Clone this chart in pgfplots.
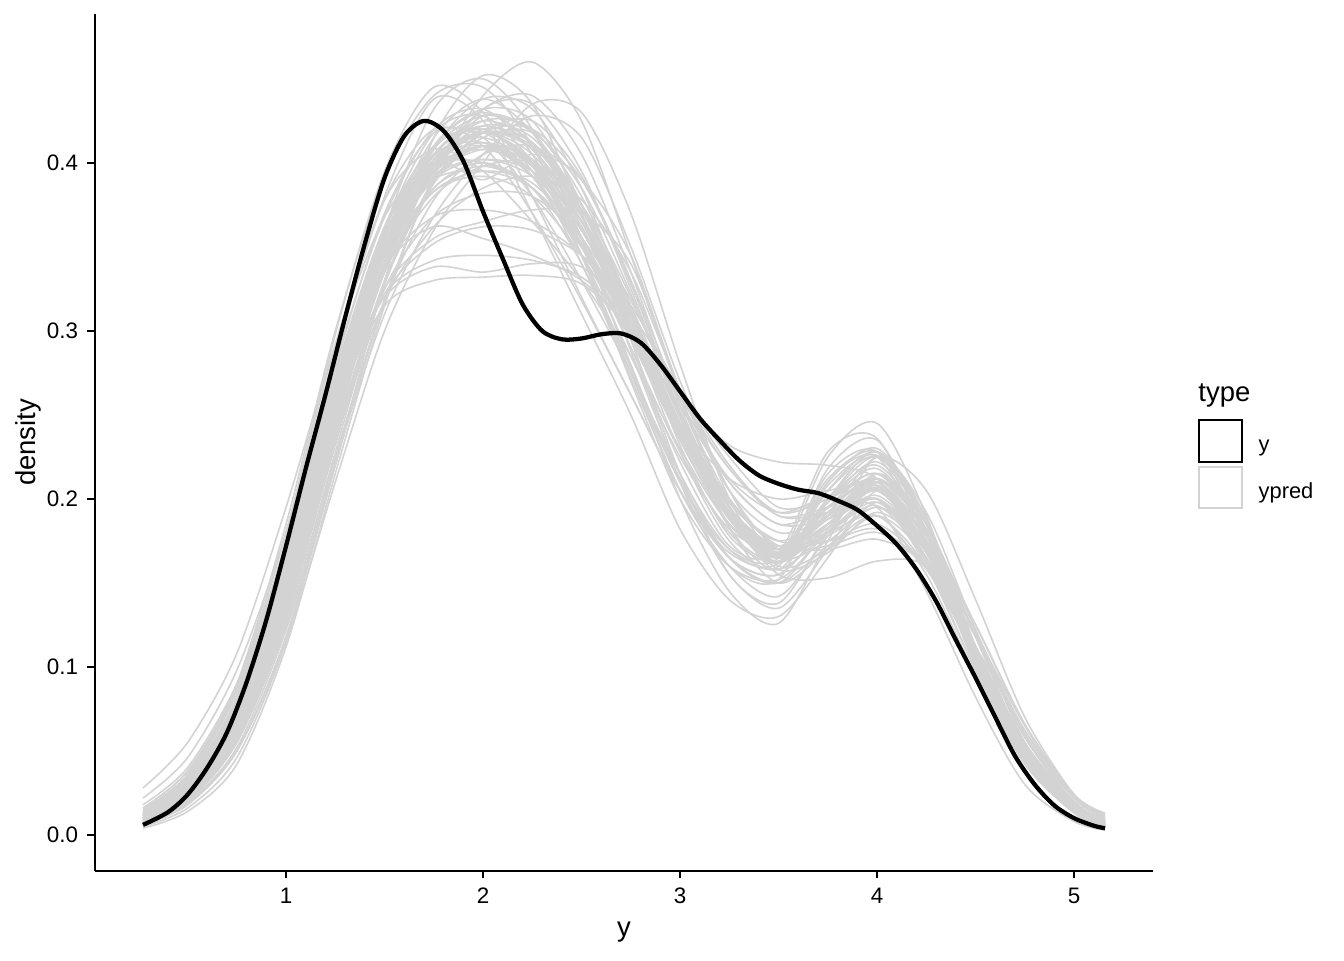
\documentclass[border=0pt]{standalone}
\usepackage{pgfplots}
\usepackage{pgfplotstable}
\pgfplotsset{compat=1.18}
\usepackage{fontspec}
\setmainfont{Liberation Sans}
\definecolor{gcol}{HTML}{D3D3D3}

\pgfplotstableread{
c   a0    a1    a2    a3    a4    a5    a6    a7    a8    a9    a10   a11   a12   a13   a14   a15   a16   a17   a18   a19   a20
x   0.274 0.5   0.75  1.0   1.25  1.5   1.75  2.0   2.25  2.5   2.75  3.0   3.25  3.5   3.75  4.0   4.25  4.5   4.75  5.0   5.157
g1  .010 .027 .070 .150 .258 .348 .402 .418 .400 .355 .298 .238 .188 .165 .180 .196 .163 .104 .050 .018 .008
g2  .006 .019 .052 .122 .222 .318 .392 .440 .460 .425 .345 .262 .195 .158 .168 .192 .168 .110 .054 .019 .008
g3  .012 .032 .082 .172 .286 .380 .438 .425 .370 .310 .250 .182 .140 .130 .165 .205 .180 .118 .058 .020 .008
g4  .015 .036 .085 .165 .255 .315 .330 .332 .333 .328 .300 .255 .210 .185 .195 .212 .180 .118 .058 .022 .010
g5  .008 .022 .060 .135 .242 .335 .395 .428 .418 .370 .300 .228 .175 .160 .218 .235 .180 .105 .045 .014 .005
g6  .028 .055 .108 .195 .292 .368 .400 .400 .385 .350 .300 .245 .200 .172 .175 .185 .160 .112 .062 .023 .011
g7  .004 .014 .042 .112 .215 .315 .392 .432 .435 .395 .325 .250 .192 .168 .185 .200 .160 .098 .045 .015 .005
g8  .012 .030 .075 .158 .262 .345 .383 .392 .380 .345 .295 .245 .212 .200 .205 .208 .172 .112 .055 .020 .008
g9  .010 .028 .072 .155 .268 .360 .400 .390 .405 .390 .330 .250 .183 .150 .170 .198 .172 .110 .050 .016 .006
g10 .009 .025 .066 .145 .258 .360 .432 .450 .420 .355 .280 .210 .165 .155 .185 .205 .168 .105 .048 .016 .006
g11 .012 .030 .074 .152 .250 .322 .352 .362 .360 .345 .315 .265 .225 .195 .200 .212 .182 .125 .065 .022 .010
g12 .011 .030 .078 .165 .278 .370 .418 .415 .380 .330 .275 .215 .165 .150 .182 .215 .180 .112 .052 .018 .007
g13 .006 .018 .050 .118 .222 .310 .368 .405 .428 .415 .350 .270 .205 .165 .175 .195 .170 .110 .050 .016 .006
g14 .010 .026 .068 .145 .250 .338 .385 .398 .385 .350 .305 .262 .232 .222 .220 .212 .172 .110 .052 .018 .007
g15 .008 .024 .064 .142 .252 .345 .398 .418 .410 .372 .312 .245 .190 .155 .153 .163 .160 .118 .062 .022 .010
g16 .010 .028 .072 .155 .265 .355 .410 .430 .410 .355 .278 .200 .145 .126 .175 .225 .192 .122 .055 .018 .006
g17 .014 .036 .090 .185 .300 .392 .440 .445 .410 .345 .270 .200 .160 .152 .180 .200 .162 .098 .044 .015 .005
g18 .007 .020 .055 .125 .225 .318 .378 .405 .410 .390 .345 .265 .205 .180 .188 .200 .168 .110 .052 .018 .007
g19 .009 .025 .066 .142 .248 .335 .385 .400 .385 .340 .275 .210 .170 .165 .225 .245 .190 .108 .045 .014 .005
g20 .018 .040 .090 .170 .262 .320 .338 .335 .340 .338 .310 .265 .220 .190 .192 .200 .172 .120 .065 .024 .012
g21 .007 .021 .058 .132 .240 .340 .408 .438 .432 .385 .310 .232 .178 .162 .185 .200 .165 .103 .047 .015 .006
g22 .014 .036 .088 .180 .292 .378 .408 .395 .365 .330 .285 .230 .185 .168 .185 .200 .168 .108 .050 .017 .006
g23 .010 .026 .066 .140 .240 .325 .368 .382 .380 .355 .310 .250 .195 .168 .190 .225 .205 .140 .070 .024 .011
g24 .011 .030 .076 .160 .270 .362 .410 .418 .392 .345 .285 .225 .182 .170 .192 .195 .145 .082 .030 .008 .003
g25 .006 .018 .050 .118 .220 .330 .415 .452 .435 .370 .288 .215 .170 .158 .180 .198 .165 .104 .048 .016 .006
g26 .016 .038 .088 .172 .268 .338 .362 .355 .345 .330 .302 .260 .218 .192 .200 .215 .185 .122 .060 .022 .009
g27 .008 .023 .062 .138 .245 .335 .380 .398 .400 .375 .320 .252 .195 .170 .188 .205 .170 .108 .050 .017 .006
g28 .010 .027 .070 .150 .262 .360 .418 .428 .400 .345 .275 .205 .160 .142 .178 .215 .185 .118 .052 .017 .006
g29 .009 .024 .062 .135 .235 .318 .362 .385 .392 .378 .335 .265 .205 .170 .178 .195 .175 .125 .066 .024 .013
g30 .022 .046 .098 .180 .282 .368 .420 .432 .405 .345 .278 .212 .165 .150 .172 .190 .155 .095 .042 .013 .004
g31 .005 .016 .046 .115 .220 .318 .388 .410 .398 .360 .305 .245 .195 .172 .190 .208 .172 .108 .050 .017 .006
g32 .011 .028 .070 .148 .248 .325 .355 .365 .372 .370 .340 .265 .210 .185 .188 .200 .170 .112 .054 .019 .008
g33 .007 .020 .055 .125 .228 .328 .398 .432 .440 .405 .335 .255 .195 .170 .180 .190 .160 .105 .052 .019 .008
g34 .013 .034 .085 .175 .288 .378 .420 .410 .370 .318 .262 .205 .168 .162 .215 .228 .175 .102 .045 .014 .005
g35 .010 .027 .070 .150 .255 .340 .383 .395 .388 .355 .302 .243 .193 .172 .190 .205 .170 .108 .052 .018 .007
g36 .008 .023 .062 .140 .250 .348 .410 .432 .425 .375 .295 .210 .155 .135 .170 .210 .185 .118 .052 .017 .006
g37 .009 .025 .066 .145 .255 .348 .405 .425 .412 .368 .305 .240 .188 .162 .192 .212 .175 .108 .050 .017 .006
g38 .011 .029 .074 .158 .268 .355 .398 .408 .395 .355 .300 .242 .192 .170 .172 .180 .160 .106 .049 .017 .007
g39 .007 .021 .058 .132 .238 .330 .388 .415 .418 .385 .322 .250 .190 .163 .198 .222 .185 .112 .052 .018 .007
g40 .013 .033 .080 .165 .272 .352 .390 .395 .385 .352 .300 .240 .190 .170 .190 .210 .175 .110 .050 .016 .006
g41 .009 .026 .068 .148 .258 .350 .408 .428 .418 .375 .312 .245 .190 .165 .200 .225 .188 .112 .052 .017 .006
g42 .012 .031 .078 .160 .266 .350 .392 .402 .392 .360 .310 .250 .198 .175 .175 .182 .158 .106 .050 .017 .007
g43 .008 .023 .062 .138 .245 .338 .395 .420 .412 .372 .312 .244 .188 .162 .195 .215 .178 .108 .050 .017 .006
g44 .010 .028 .072 .152 .260 .345 .392 .408 .400 .365 .310 .245 .192 .170 .190 .212 .180 .112 .050 .016 .006
g45 .011 .030 .077 .162 .272 .360 .410 .420 .398 .350 .290 .228 .180 .162 .183 .205 .172 .108 .050 .017 .006
g46 .007 .020 .056 .128 .232 .328 .390 .418 .420 .390 .330 .258 .196 .166 .200 .220 .182 .110 .052 .018 .007
g47 .010 .027 .070 .150 .258 .345 .390 .402 .395 .365 .318 .258 .200 .172 .170 .176 .160 .110 .053 .019 .008
g48 .012 .032 .080 .166 .275 .362 .405 .412 .392 .350 .295 .235 .185 .165 .185 .207 .175 .110 .050 .016 .006
g49 .009 .024 .064 .142 .250 .342 .398 .418 .408 .368 .308 .242 .190 .168 .205 .225 .185 .108 .051 .018 .007
g50 .010 .027 .070 .152 .262 .352 .400 .412 .400 .360 .302 .240 .190 .168 .185 .202 .170 .108 .050 .017 .006
g51 .008 .022 .060 .135 .243 .338 .400 .425 .420 .380 .315 .242 .183 .158 .200 .228 .188 .112 .050 .016 .006
g52 .013 .033 .082 .168 .275 .358 .398 .400 .385 .350 .300 .245 .195 .172 .188 .205 .172 .110 .052 .018 .007
g53 .009 .025 .066 .146 .255 .345 .395 .410 .402 .368 .312 .250 .198 .175 .190 .205 .170 .106 .049 .017 .006
g54 .011 .029 .074 .155 .262 .348 .394 .410 .402 .362 .300 .235 .185 .167 .188 .208 .175 .110 .050 .017 .006
g55 .008 .022 .060 .136 .245 .340 .398 .422 .415 .375 .312 .245 .190 .165 .198 .218 .180 .108 .051 .018 .007
g56 .012 .031 .078 .162 .270 .356 .402 .410 .392 .352 .298 .240 .192 .172 .190 .206 .172 .108 .050 .017 .006
g57 .013 .035 .088 .180 .298 .395 .445 .430 .380 .320 .262 .205 .165 .155 .185 .205 .168 .102 .046 .015 .005
g58 .007 .019 .050 .115 .210 .300 .360 .400 .435 .430 .370 .280 .200 .160 .170 .190 .165 .105 .050 .017 .007
g59 .016 .038 .088 .168 .260 .322 .342 .345 .342 .332 .305 .262 .218 .190 .195 .205 .178 .120 .060 .022 .009
g60 .010 .027 .070 .152 .262 .352 .405 .420 .395 .340 .272 .205 .160 .152 .210 .225 .172 .100 .044 .014 .005
g61 .009 .025 .066 .146 .256 .346 .400 .418 .405 .365 .308 .244 .192 .168 .212 .228 .185 .106 .050 .017 .006
g62 .011 .029 .074 .156 .264 .350 .396 .410 .398 .360 .305 .243 .192 .170 .195 .208 .170 .106 .049 .017 .006
g63 .007 .021 .057 .130 .235 .328 .388 .418 .425 .392 .328 .252 .190 .162 .205 .228 .188 .108 .050 .017 .006
g64 .012 .031 .078 .160 .262 .338 .368 .372 .365 .345 .308 .258 .212 .192 .202 .210 .175 .112 .053 .018 .007
g65 .010 .026 .068 .148 .258 .350 .405 .422 .408 .365 .302 .236 .185 .165 .195 .210 .170 .104 .047 .016 .006
g66 .008 .023 .062 .140 .248 .340 .396 .418 .412 .375 .315 .248 .192 .166 .208 .226 .185 .108 .050 .017 .006
g67 .010 .027 .070 .150 .258 .345 .395 .410 .395 .352 .290 .222 .172 .168 .228 .236 .175 .100 .043 .014 .005
g68 .012 .030 .076 .160 .268 .356 .404 .415 .398 .356 .298 .238 .188 .168 .190 .206 .172 .108 .050 .017 .006
g69 .009 .025 .066 .146 .258 .355 .415 .438 .418 .368 .295 .215 .155 .138 .180 .212 .180 .112 .050 .016 .006
g70 .011 .029 .074 .156 .265 .352 .402 .418 .402 .362 .302 .238 .188 .166 .210 .230 .188 .108 .050 .017 .006
}\rawdata
\pgfplotstabletranspose[colnames from=c]\yrep\rawdata

\begin{document}
\begin{tikzpicture}
\useasboundingbox (0pt,0pt) rectangle (504pt,360pt);
\begin{axis}[
  at={(35.6pt,33.4pt)}, anchor=south west,
  scale only axis, width=396.75pt, height=321.4pt,
  xmin=0.03, xmax=5.40, ymin=-0.0214, ymax=0.4887,
  axis x line=bottom, axis y line=left,
  axis line style={-, line width=0.75pt, black},
  xtick={1,2,3,4,5}, ytick={0,0.1,0.2,0.3,0.4},
  tick align=outside, major tick length=2.8pt,
  tick style={line width=0.75pt, black},
  /pgf/number format/assume math mode=true,
  ticklabel style={font=\fontsize{8.4}{10}\selectfont, text=black},
  yticklabel style={/pgf/number format/.cd, fixed, fixed zerofill, precision=1},
  xlabel={y}, ylabel={density},
  label style={font=\fontsize{10.3}{12}\selectfont},
  xlabel style={at={(axis description cs:0.5,-0.0712)}, anchor=center},
  ylabel style={at={(axis description cs:-0.0633,0.5)}, anchor=center},
  clip=false,
]
\pgfplotsinvokeforeach{1,...,70}{
  \addplot[gcol, line width=0.6pt, smooth] table[x=x, y=g#1] {\yrep};
}
\addplot[black, line width=1.6pt, smooth] coordinates {
(0.274,0.006)(0.4,0.0135)(0.5,0.024)(0.6,0.040)(0.7,0.061)(0.8,0.091)(0.9,0.128)
(1.0,0.172)(1.1,0.218)(1.2,0.262)(1.3,0.308)(1.4,0.352)(1.5,0.391)(1.6,0.416)
(1.7,0.425)(1.8,0.419)(1.9,0.401)(2.0,0.371)(2.1,0.343)(2.2,0.316)(2.3,0.300)
(2.4,0.295)(2.5,0.2955)(2.6,0.298)(2.7,0.2985)(2.8,0.293)(2.9,0.280)(3.0,0.264)
(3.1,0.248)(3.2,0.235)(3.3,0.223)(3.4,0.214)(3.5,0.209)(3.6,0.2055)(3.7,0.2035)
(3.8,0.199)(3.9,0.1935)(4.0,0.184)(4.1,0.173)(4.2,0.158)(4.3,0.139)(4.4,0.116)
(4.5,0.0935)(4.6,0.070)(4.7,0.047)(4.8,0.030)(4.9,0.0175)(5.0,0.010)(5.1,0.0055)
(5.157,0.004)};
\end{axis}
% legend
\node[anchor=base west, inner sep=0pt, font=\fontsize{10.3}{12}\selectfont] at (449.2pt,209.4pt) {type};
\draw[black, line width=0.8pt, fill=white] (449.6pt,186.6pt) rectangle (465.8pt,202.4pt);
\draw[gcol, line width=0.8pt, fill=white] (449.6pt,169.6pt) rectangle (465.8pt,184.8pt);
\node[anchor=base west, inner sep=0pt, font=\fontsize{8.2}{10}\selectfont] at (471.8pt,190.6pt) {y};
\node[anchor=base west, inner sep=0pt, font=\fontsize{8.2}{10}\selectfont] at (471.8pt,173.1pt) {ypred};
\end{tikzpicture}
\end{document}
